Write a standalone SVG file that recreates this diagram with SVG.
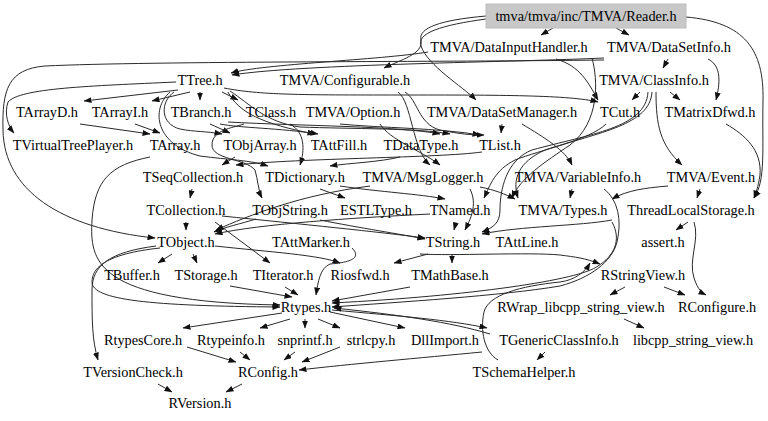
<svg xmlns="http://www.w3.org/2000/svg" width="768" height="421" viewBox="0 0 768 421">
<defs>
<style>
.t text{font-family:'Liberation Serif','DejaVu Serif',serif;font-size:14.3px;fill:#000;text-anchor:middle}
.e{fill:none;stroke:#2a2a2a;stroke-width:1;marker-end:url(#ah)}
</style>
<marker id="ah" markerWidth="8" markerHeight="6" refX="7.5" refY="3" orient="auto" markerUnits="userSpaceOnUse"><path d="M0,0 L8,3 L0,6 z" fill="#111"/></marker>
</defs>
<rect width="768" height="421" fill="#fff"/>
<g id="edges">
<path class="e" d="M553 28 L541 35"/>
<path class="e" d="M616 28 L629 35"/>
<path class="e" d="M486 16 C440 20,418 28,421 40 C424 54,400 60,384 68"/>
<path class="e" d="M486 19 C442 25,416 33,421 46 C428 66,462 86,476 100"/>
<path class="e" d="M686 17 C745 22,764 50,763 100 C762 150,766 180,754 198"/>
<path class="e" d="M428 52 C380 60,262 64,231 73"/>
<path class="e" d="M604 58 C520 62,300 64,232 75"/>
<path class="e" d="M604 60 C450 62,150 61,45 66 C8 69,2 90,3 130 C4 190,60 228,155 238"/>
<path class="e" d="M556 59 C580 66,588 82,598 100"/>
<path class="e" d="M668 59 L663 68"/>
<path class="e" d="M708 59 C722 66,720 84,716 100"/>
<path class="e" d="M640 92 L632 100"/>
<path class="e" d="M670 92 L680 100"/>
<path class="e" d="M502 124 L501 133"/>
<path class="e" d="M522 124 C545 138,565 150,572 165"/>
<path class="e" d="M656 92 C656 125,660 145,682 165"/>
<path class="e" d="M652 92 C650 125,600 132,545 150 C518 162,512 180,518 198"/>
<path class="e" d="M648 92 C646 128,590 134,532 150 C506 160,500 190,500 210 C500 224,492 228,482 232"/>
<path class="e" d="M592 58 C598 80,600 122,570 145 C545 162,520 178,512 198"/>
<path class="e" d="M668 186 C645 188,628 190,612 199"/>
<path class="e" d="M700 189 L697 198"/>
<path class="e" d="M572 189 L570 198"/>
<path class="e" d="M726 124 C745 135,762 150,760 175 C758 188,756 192,754 198"/>
<path class="e" d="M688 222 L676 230"/>
<path class="e" d="M694 222 C700 240,688 260,694 278 C698 290,702 293,706 295"/>
<path class="e" d="M625 287 L610 295"/>
<path class="e" d="M664 287 L685 295"/>
<path class="e" d="M624 319 L644 328"/>
<path class="e" d="M545 352 L537 360"/>
<path class="e" d="M498 360 C484 352,480 330,484 312 C488 295,520 286,560 282 C575 280,585 272,590 263"/>
<path class="e" d="M482 352 C420 358,350 364,299 370"/>
<path class="e" d="M612 222 C622 240,614 256,598 266 C580 280,470 296,332 303"/>
<path class="e" d="M604 189 C618 200,622 220,617 242 C612 262,590 278,560 286 C500 296,400 302,332 307"/>
<path class="e" d="M420 254 C450 256,530 252,560 255 C575 257,585 258,600 264"/>
<path class="e" d="M428 254 L394 263"/>
<path class="e" d="M452 254 L452 263"/>
<path class="e" d="M410 287 L332 301"/>
<path class="e" d="M282 313 L183 328"/>
<path class="e" d="M290 319 L260 328"/>
<path class="e" d="M305 319 L305 328"/>
<path class="e" d="M318 319 L340 328"/>
<path class="e" d="M330 312 L405 328"/>
<path class="e" d="M332 310 C400 316,450 320,487 328"/>
<path class="e" d="M490 334 C450 322,400 315,334 308"/>
<path class="e" d="M187 347 L236 362"/>
<path class="e" d="M240 352 L250 360"/>
<path class="e" d="M295 352 L284 360"/>
<path class="e" d="M340 347 L302 362"/>
<path class="e" d="M242 384 L226 392"/>
<path class="e" d="M158 384 L172 392"/>
<path class="e" d="M156 246 C110 252,92 265,92 290 C92 320,92 340,98 360"/>
<path class="e" d="M160 248 C105 254,92 268,92 282 C92 300,150 306,280 307"/>
<path class="e" d="M150 157 C110 165,95 180,92 220 C90 260,92 302,280 305"/>
<path class="e" d="M176 82 C90 86,20 88,8 102 C4 114,8 126,14 133"/>
<path class="e" d="M178 90 L84 101"/>
<path class="e" d="M190 92 L152 101"/>
<path class="e" d="M200 92 L200 100"/>
<path class="e" d="M222 92 L238 100"/>
<path class="e" d="M224 88 C260 95,300 95,400 95 C500 95,570 95,598 102"/>
<path class="e" d="M174 92 C160 102,160 124,180 129 C195 132,205 131,222 134"/>
<path class="e" d="M230 91 C250 104,265 122,300 127 C350 129,420 128,450 134"/>
<path class="e" d="M228 92 C238 112,262 124,315 134"/>
<path class="e" d="M170 92 C150 110,156 145,200 156 C230 160,250 160,268 166"/>
<path class="e" d="M80 124 L150 134"/>
<path class="e" d="M135 124 L160 133"/>
<path class="e" d="M210 124 L230 133"/>
<path class="e" d="M220 124 C240 128,280 128,318 134"/>
<path class="e" d="M228 122 C300 126,400 126,440 134"/>
<path class="e" d="M290 124 C305 132,305 150,300 165"/>
<path class="e" d="M340 124 C380 128,440 128,480 135"/>
<path class="e" d="M405 92 C418 100,418 124,440 130 C460 134,470 135,484 135"/>
<path class="e" d="M398 92 C412 102,412 150,430 165"/>
<path class="e" d="M380 124 C390 140,420 150,440 165"/>
<path class="e" d="M235 157 L222 165"/>
<path class="e" d="M482 152 C440 158,300 158,236 165"/>
<path class="e" d="M400 157 C380 162,350 163,330 166"/>
<path class="e" d="M192 189 L190 198"/>
<path class="e" d="M320 189 L345 198"/>
<path class="e" d="M340 186 C380 192,420 194,445 199"/>
<path class="e" d="M244 124 C232 128,212 130,212 145 C212 160,245 158,255 170 C258 180,258 190,262 198"/>
<path class="e" d="M606 124 C590 140,540 150,515 160 C495 170,490 185,484 198"/>
<path class="e" d="M186 222 L186 230"/>
<path class="e" d="M215 222 L270 263"/>
<path class="e" d="M222 216 C300 224,380 232,425 238"/>
<path class="e" d="M256 219 C240 224,225 227,214 232"/>
<path class="e" d="M320 220 C360 228,400 234,425 239"/>
<path class="e" d="M430 214 C350 218,260 224,215 234"/>
<path class="e" d="M456 222 L454 230"/>
<path class="e" d="M370 186 C300 195,250 215,216 230"/>
<path class="e" d="M470 189 C478 205,470 220,465 230"/>
<path class="e" d="M480 187 C495 190,505 194,515 199"/>
<path class="e" d="M612 220 C580 226,520 226,482 234"/>
<path class="e" d="M172 254 L158 263"/>
<path class="e" d="M193 254 L197 263"/>
<path class="e" d="M215 246 C270 252,320 255,340 263"/>
<path class="e" d="M230 286 L292 297"/>
<path class="e" d="M285 287 L298 295"/>
<path class="e" d="M352 248 C360 256,356 262,330 264 C320 268,318 282,316 295"/>
</g>
<g class="t" font-family="Liberation Serif, DejaVu Serif, serif" font-size="14.3" text-anchor="middle">
<g id="n_reader"><rect x="486" y="4" width="200" height="24" fill="#c8c8c8" stroke="#bdbdbd"/><text x="586" y="21">tmva/tmva/inc/TMVA/Reader.h</text></g>
<g id="n_dih"><text x="509" y="52">TMVA/DataInputHandler.h</text></g>
<g id="n_dsi"><text x="669" y="52">TMVA/DataSetInfo.h</text></g>
<g id="n_ttree"><text x="200" y="85">TTree.h</text></g>
<g id="n_conf"><text x="345" y="85">TMVA/Configurable.h</text></g>
<g id="n_ci"><text x="654" y="85">TMVA/ClassInfo.h</text></g>
<g id="n_tarrayd"><text x="47" y="117">TArrayD.h</text></g>
<g id="n_tarrayi"><text x="120" y="117">TArrayI.h</text></g>
<g id="n_tbranch"><text x="201" y="117">TBranch.h</text></g>
<g id="n_tclass"><text x="271" y="117">TClass.h</text></g>
<g id="n_option"><text x="353" y="117">TMVA/Option.h</text></g>
<g id="n_dsm"><text x="502" y="117">TMVA/DataSetManager.h</text></g>
<g id="n_tcut"><text x="620" y="117">TCut.h</text></g>
<g id="n_tmatrix"><text x="710" y="117">TMatrixDfwd.h</text></g>
<g id="n_tvtp"><text x="73" y="150">TVirtualTreePlayer.h</text></g>
<g id="n_tarray"><text x="175" y="150">TArray.h</text></g>
<g id="n_tobjarray"><text x="260" y="150">TObjArray.h</text></g>
<g id="n_tattfill"><text x="339" y="150">TAttFill.h</text></g>
<g id="n_tdatatype"><text x="421" y="150">TDataType.h</text></g>
<g id="n_tlist"><text x="500" y="150">TList.h</text></g>
<g id="n_tseqcoll"><text x="193" y="182">TSeqCollection.h</text></g>
<g id="n_tdict"><text x="305" y="182">TDictionary.h</text></g>
<g id="n_msglog"><text x="423" y="182">TMVA/MsgLogger.h</text></g>
<g id="n_varinfo"><text x="578" y="182">TMVA/VariableInfo.h</text></g>
<g id="n_event"><text x="711" y="182">TMVA/Event.h</text></g>
<g id="n_tcoll"><text x="186" y="215">TCollection.h</text></g>
<g id="n_tobjstring"><text x="290" y="215">TObjString.h</text></g>
<g id="n_estl"><text x="376" y="215">ESTLType.h</text></g>
<g id="n_tnamed"><text x="460" y="215">TNamed.h</text></g>
<g id="n_types"><text x="563" y="215">TMVA/Types.h</text></g>
<g id="n_tls"><text x="691" y="215">ThreadLocalStorage.h</text></g>
<g id="n_tobject"><text x="186" y="247">TObject.h</text></g>
<g id="n_tattmarker"><text x="311" y="247">TAttMarker.h</text></g>
<g id="n_tstring"><text x="453" y="247">TString.h</text></g>
<g id="n_tattline"><text x="527" y="247">TAttLine.h</text></g>
<g id="n_assert"><text x="663" y="247">assert.h</text></g>
<g id="n_tbuffer"><text x="132" y="280">TBuffer.h</text></g>
<g id="n_tstorage"><text x="206" y="280">TStorage.h</text></g>
<g id="n_titerator"><text x="283" y="280">TIterator.h</text></g>
<g id="n_riosfwd"><text x="360" y="280">Riosfwd.h</text></g>
<g id="n_tmathbase"><text x="450" y="280">TMathBase.h</text></g>
<g id="n_rsv"><text x="643" y="280">RStringView.h</text></g>
<g id="n_rtypes"><text x="306" y="312">Rtypes.h</text></g>
<g id="n_rwrap"><text x="581" y="312">RWrap_libcpp_string_view.h</text></g>
<g id="n_rconfigure"><text x="717" y="312">RConfigure.h</text></g>
<g id="n_rtypescore"><text x="143" y="345">RtypesCore.h</text></g>
<g id="n_rtypeinfo"><text x="231" y="345">Rtypeinfo.h</text></g>
<g id="n_snprintf"><text x="305" y="345">snprintf.h</text></g>
<g id="n_strlcpy"><text x="371" y="345">strlcpy.h</text></g>
<g id="n_dllimport"><text x="445" y="345">DllImport.h</text></g>
<g id="n_tgci"><text x="559" y="345">TGenericClassInfo.h</text></g>
<g id="n_libcpp"><text x="693" y="345">libcpp_string_view.h</text></g>
<g id="n_tversioncheck"><text x="133" y="377">TVersionCheck.h</text></g>
<g id="n_rconfig"><text x="268" y="377">RConfig.h</text></g>
<g id="n_tschema"><text x="524" y="377">TSchemaHelper.h</text></g>
<g id="n_rversion"><text x="200" y="408">RVersion.h</text></g>
</g>
</svg>
